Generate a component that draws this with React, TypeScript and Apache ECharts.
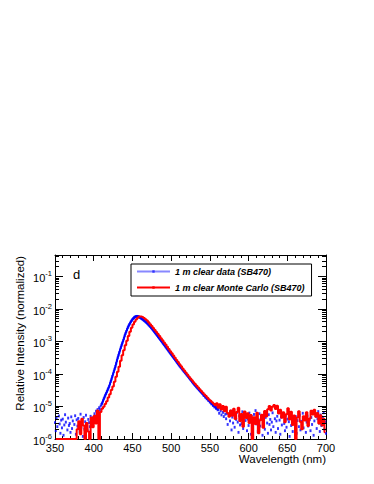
import React, { useEffect, useRef } from "react";
import * as echarts from "echarts";

// ---------- data (intensities in units of 1e-6, 0 = empty) ----------
const UNIT = 1e-6;

// measured data (SB470), 1 nm sampling
const blueLowStart = 350;
const blueLow = [
  3.2, 1.8, 4.5, 2.4, 0, 5.1, 2.9, 1.5, 3.8, 2.2,
  4.1, 1.3, 2.7, 5.6, 3.3, 0, 1.9, 4.4, 2.6, 3.0,
  1.6, 4.8, 2.1, 3.6, 0, 2.8, 5.2, 1.4, 3.9, 2.5,
  4.3, 3.1, 1.7, 5.8, 2.3, 3.7, 1.2, 4.6, 2.0, 3.4,
  5.4, 2.6, 1.9, 4.0, 3.2, 2.4, 5.0, 3.8, 2.7, 4.5,
  4.1, 6.0, 3.5, 7.2, 5.4, 8.1, 6.9, 9.2, 8.0, 10.3,
];
const blueMainStart = 410;
const blueMain = [
  11.5, 12.8, 14.9, 17.2, 19.6, 22.4, 25.1, 28.6, 32.4, 36.9,
  42, 50, 59, 70, 84, 100, 119, 142, 170, 210,
  260, 315, 380, 455, 545, 650, 770, 905, 1060, 1250,
  1500, 1750, 2020, 2330, 2660, 3000, 3350, 3700, 4050, 4400,
  4800, 5100, 5400, 5650, 5800, 5900, 5950, 5900, 5800, 5650,
  5450, 5250, 5050, 4850, 4650, 4450, 4250, 4050, 3850, 3650,
  3450, 3250, 3060, 2870, 2690, 2520, 2350, 2190, 2040, 1900,
  1770, 1645, 1530, 1420, 1320, 1225, 1140, 1060, 985, 915, 850,
  790, 733, 680, 631, 585, 543, 503, 467, 433, 402,
  373, 346, 321, 298, 277, 257, 238, 221, 205, 190,
  177, 165, 154, 144, 134, 125, 117, 109, 102, 95,
  89, 83, 77, 72, 67, 63, 58, 54, 51, 47,
  44.5, 41.8, 39.3, 36.9, 34.7, 32.6, 30.7, 28.8, 27.1, 25.5,
  24.5, 21.8, 22.1, 19.4, 19.6, 17.2, 17.5, 15.3, 15.8, 13.6,
  14.1, 12.0, 12.6, 10.7, 11.3, 9.6, 10.4, 8.7, 9.5, 7.9,
  8.1, 6.2, 9.4, 7.3, 5.5, 8.8, 6.6, 4.9, 7.8, 5.8,
];
const blueHighStart = 571;
const blueHigh = [
  4.2, 6.1, 2.8, 0, 5.3, 3.6, 7.2, 1.9, 4.7, 3.1,
  5.8, 2.3, 0, 4.0, 6.6, 3.3, 1.6, 5.1, 2.7, 4.4,
  3.0, 6.9, 2.1, 4.8, 0, 3.7, 5.5, 1.8, 4.1, 2.6,
  6.3, 3.4, 1.4, 4.9, 2.2, 0, 5.7, 3.2, 7.5, 2.9,
  4.5, 1.7, 3.9, 6.0, 2.5, 0, 4.3, 1.3, 3.5, 5.2,
  2.0, 4.6, 0, 3.1, 1.5, 5.6, 2.8, 4.0, 1.9, 3.3,
  6.4, 2.4, 0, 4.2, 1.6, 3.6, 5.0, 2.1, 0, 3.8,
  1.4, 4.7, 2.7, 6.1, 0, 3.0, 1.8, 5.3, 2.3, 4.1,
  0, 3.4, 1.2, 5.9, 2.6, 4.4, 1.7, 0, 3.2, 2.0,
  4.9, 1.5, 3.7, 0, 2.4, 5.4, 1.9, 3.5, 2.9, 6.2,
  2.2, 0, 4.5, 1.6, 3.3, 5.1, 2.5, 0, 3.9, 1.8,
  4.6, 2.8, 6.7, 1.3, 3.6, 0, 5.0, 2.1, 4.2, 7.0,
  3.1, 1.7, 5.5, 2.6, 0, 4.3, 6.4, 2.0, 3.4, 1.5,
];
const blueStep = 1;

// Monte Carlo histogram, 2 nm bins (bin centres)
const redBinWidth = 2;
const redLowStart = 351;
const redLow = [
  0, 0, 0, 0, 0, 0, 0, 0, 0, 0, 0, 0, 0, 0,
  2.0, 3.5, 1.4, 4.2, 2.6, 0, 3.1, 1.7, 0, 4.6, 2.3, 5.2, 3.0, 7.5, 0, 6.8,
];
const redMainStart = 411;
const redMain = [
  8.6, 9.9, 12, 14.5, 19, 24, 32, 41, 58, 82,
  118, 168, 255, 375, 540, 770, 1060, 1490, 2000, 2650,
  3330, 4030, 4780, 5380, 5850, 5920, 5650, 5250, 4850, 4400,
  3900, 3420, 2980, 2600, 2260, 1960, 1700, 1470, 1270, 1090,
  940, 805, 690, 590, 505, 432, 370, 317, 272, 233,
  200, 172, 148, 128, 111, 97, 84, 73, 64, 56,
  49, 43.5, 38.5, 34, 30, 26.5, 23.5, 21, 18.5, 16.5,
  15, 13.5, 12.2, 11, 12.5, 9.2, 11.8, 8.1, 10.4, 7.2,
  9.8, 6.3, 4.8,
];
const redHighStart = 577;
const redHigh = [
  7.5, 5.2, 8.6, 4.1, 6.8, 9.1, 3.6, 5.9, 2.4, 7.0,
  4.4, 6.2, 3.1, 5.5, 0, 4.7, 2.9, 6.4, 1.5, 3.8,
  5.6, 2.2, 7.3, 4.9, 8.2, 10.3, 7.6, 9.9, 11.2, 8.4,
  10.6, 6.1, 7.9, 4.5, 6.7, 3.3, 5.8, 8.8, 4.0, 6.9,
  2.7, 5.3, 0, 4.6, 7.1, 3.4, 2.0, 5.0, 3.7, 6.6,
  2.5, 4.3, 7.4, 5.7, 8.0, 4.8, 6.3, 3.0, 5.4, 2.6,
  4.2, 1.6,
];

const seriesNames = ["1 m clear data (SB470)", "1 m clear Monte Carlo (SB470)"];
const panelLabel = "d";
const xTitle = "Wavelength (nm)";
const yTitle = "Relative Intensity (normalized)";
const xMin = 350;
const xMax = 700;
const xInterval = 50;
const yMin = 1e-6;
const yMax = 0.46;

const FONT = "'Liberation Sans', Arial, Helvetica, sans-serif";

function seg(start: number, step: number, vals: number[]) {
  return vals.map((v, i) => [start + i * step, v]);
}

export default function App() {
  const ref = useRef<HTMLDivElement>(null);

  useEffect(() => {
    if (!ref.current) return;
    const chart = echarts.init(ref.current, undefined, { renderer: "svg" });

    const blueAll = [
      ...seg(blueLowStart, blueStep, blueLow),
      ...seg(blueMainStart, blueStep, blueMain),
      ...seg(blueHighStart, blueStep, blueHigh),
    ];
    const blueDots = blueAll.filter((p) => p[1] > 0).map(([x, v]) => [x, v * UNIT]);
    const blueLine = seg(blueMainStart, blueStep, blueMain)
      .filter((p) => p[0] <= 560)
      .map(([x, v]) => [x, v * UNIT]);
    const redAll = [
      ...seg(redLowStart, redBinWidth, redLow),
      ...seg(redMainStart, redBinWidth, redMain),
      ...seg(redHighStart, redBinWidth, redHigh),
    ].map(([x, v]) => [x, Math.max(v * UNIT, yMin)]);

    const minorY: number[][] = [];
    for (let d = -6; d <= 0; d++) {
      for (let k = 2; k <= 9; k++) {
        const v = k * Math.pow(10, d);
        if (v < yMax) minorY.push([xMin, v]);
      }
    }

    const axisLine = { show: true, onZero: false, lineStyle: { color: "#000", width: 1 } };
    const xBase = {
      type: "value",
      min: xMin,
      max: xMax,
      interval: xInterval,
      axisLine,
      axisTick: { show: true, inside: true, length: 6, lineStyle: { color: "#000" } },
      minorTick: { show: true, splitNumber: 5, length: 3, lineStyle: { color: "#000" } },
      splitLine: { show: false },
      minorSplitLine: { show: false },
    };
    const yBase = {
      type: "log",
      logBase: 10,
      min: yMin,
      max: yMax,
      axisLine,
      axisTick: { show: true, inside: true, length: 8, lineStyle: { color: "#000" } },
      splitLine: { show: false },
    };

    const option: any = {
      animation: false,
      grid: { left: 55, top: 255, width: 271, height: 184 },
      xAxis: [
        {
          ...xBase,
          position: "bottom",
          axisLabel: { margin: 3, fontSize: 11, color: "#000", fontFamily: FONT },
        },
        { ...xBase, position: "top", axisLabel: { show: false } },
      ],
      yAxis: [
        {
          ...yBase,
          position: "left",
          axisLabel: {
            margin: 3,
            color: "#000",
            formatter: (v: number) => {
              const l = Math.log10(v);
              const e = Math.round(l);
              if (Math.abs(l - e) > 1e-6) return "";
              return `{b|10}{s|${e}}`;
            },
            rich: {
              b: { fontSize: 11, fontFamily: FONT, color: "#000", verticalAlign: "bottom", lineHeight: 14 },
              s: { fontSize: 7.5, fontFamily: FONT, color: "#000", verticalAlign: "top", lineHeight: 14 },
            },
          },
        },
        { ...yBase, position: "right", axisLabel: { show: false } },
      ],
      legend: {
        data: seriesNames,
        orient: "vertical",
        left: 131,
        top: 264,
        itemWidth: 33,
        itemHeight: 3,
        itemGap: 5,
        padding: [2, 7, 3, 5],
        backgroundColor: "#fff",
        borderColor: "#000",
        borderWidth: 1,
        borderRadius: 0,
        selectedMode: false,
        textStyle: {
          fontSize: 9,
          fontStyle: "italic",
          fontWeight: "bold",
          fontFamily: FONT,
          color: "#000",
          lineHeight: 11,
        },
      },
      graphic: [
        {
          type: "text",
          x: 73,
          y: 268,
          style: { text: panelLabel, fontSize: 13, fontFamily: FONT, fill: "#000", textAlign: "left", textVerticalAlign: "top" },
        },
        {
          type: "text",
          x: 20,
          y: 256,
          rotation: Math.PI / 2,
          style: { text: yTitle, fontSize: 11.5, fontFamily: FONT, fill: "#000", textAlign: "right", textVerticalAlign: "middle" },
        },
        {
          type: "text",
          x: 326,
          y: 459,
          style: { text: xTitle, fontSize: 11.5, fontFamily: FONT, fill: "#000", textAlign: "right", textVerticalAlign: "middle" },
        },
      ],
      series: [
        {
          name: "blueDots",
          type: "scatter",
          data: blueDots,
          symbol: "rect",
          symbolSize: [2, 2.8],
          itemStyle: { color: "#0000ff" },
          silent: true,
          z: 2,
        },
        {
          name: "blueLine",
          type: "line",
          data: blueLine,
          showSymbol: false,
          symbol: "none",
          lineStyle: { color: "#0000ff", width: 1.9 },
          silent: true,
          z: 2,
        },
        {
          name: "redHist",
          type: "line",
          step: "middle",
          data: redAll,
          symbol: "none",
          lineStyle: { color: "#ff0000", width: 2 },
          silent: true,
          clip: true,
          z: 3,
        },
        {
          name: seriesNames[0],
          type: "line",
          data: [],
          symbol: "rect",
          itemStyle: { color: "#3333ff" },
          lineStyle: { color: "#8888ff", width: 1 },
        },
        {
          name: seriesNames[1],
          type: "line",
          data: [],
          symbol: "rect",
          itemStyle: { color: "#ff0000" },
          lineStyle: { color: "#ff0000", width: 2 },
        },
        {
          name: "minorTicks",
          type: "custom",
          data: minorY,
          silent: true,
          z: 4,
          renderItem: (params: any, api: any) => {
            const cs = params.coordSys;
            const p = api.coord([api.value(0), api.value(1)]);
            const y = Math.round(p[1] - 0.5) + 0.5;
            return {
              type: "group",
              children: [
                { type: "line", shape: { x1: cs.x, y1: y, x2: cs.x + 4, y2: y }, style: { stroke: "#000", lineWidth: 1 } },
                {
                  type: "line",
                  shape: { x1: cs.x + cs.width - 4, y1: y, x2: cs.x + cs.width, y2: y },
                  style: { stroke: "#000", lineWidth: 1 },
                },
              ],
            };
          },
        },
      ],
    };

    chart.setOption(option);
    return () => chart.dispose();
  }, []);

  return (
    <div
      ref={ref}
      style={{ position: "fixed", left: 0, top: 0, width: 374, height: 484, background: "#fff" }}
    />
  );
}
